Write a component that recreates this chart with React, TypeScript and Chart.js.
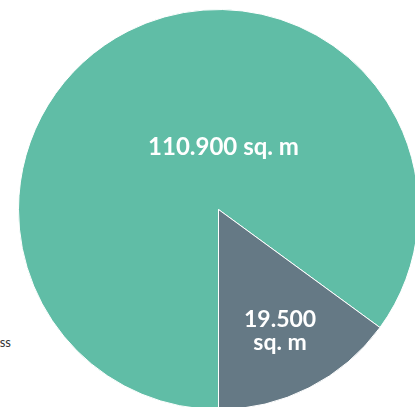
import React, { useEffect, useRef } from "react";
import { Chart, registerables } from "chart.js";

Chart.register(...registerables);

const categories = ["Area A", "Area B"];
const values = [110900, 19500];
const labelLines = [["110.900 sq. m"], ["19.500", "sq. m"]];
const colors = ["#60BDA6", "#657985"];
const legendTail = "ss";

const labelPlugin = {
  id: "sliceLabels",
  afterDatasetsDraw(chart: any) {
    const ctx = chart.ctx;
    const meta = chart.getDatasetMeta(0);
    ctx.save();
    ctx.fillStyle = "#ffffff";
    ctx.textAlign = "center";
    ctx.textBaseline = "middle";
    meta.data.forEach((arc: any, i: number) => {
      const { x, y, outerRadius, startAngle, endAngle } = arc.getProps(
        ["x", "y", "outerRadius", "startAngle", "endAngle"],
        true
      );
      let px: number, py: number, size: number, lh: number;
      if (i === 0) {
        px = x + outerRadius * 0.025;
        py = y - outerRadius * 0.31;
        size = 24;
        lh = 26;
      } else {
        const mid = (startAngle + endAngle) / 2;
        px = x + Math.cos(mid) * outerRadius * 0.68;
        py = y + Math.sin(mid) * outerRadius * 0.68;
        size = 23;
        lh = 23;
      }
      ctx.font = `bold ${size}px Lato, "Open Sans", sans-serif`;
      const lines = labelLines[i];
      lines.forEach((t, k) => {
        ctx.fillText(t, px, py + (k - (lines.length - 1) / 2) * lh);
      });
    });
    ctx.restore();
  },
};

export default function App() {
  const ref = useRef<HTMLCanvasElement>(null);
  useEffect(() => {
    if (!ref.current) return;
    const chart = new Chart(ref.current, {
      type: "pie",
      data: {
        labels: categories,
        datasets: [
          {
            data: values,
            backgroundColor: colors,
            borderColor: "#ffffff",
            borderWidth: 1,
          },
        ],
      },
      options: {
        responsive: false,
        animation: false,
        rotation: 180,
        layout: { padding: 0 },
        plugins: {
          legend: { display: false },
          tooltip: { enabled: false },
        },
      },
      plugins: [labelPlugin],
    });
    return () => chart.destroy();
  }, []);

  return (
    <div
      style={{
        position: "fixed",
        left: 0,
        top: 0,
        width: 415,
        height: 407,
        overflow: "hidden",
        background: "#ffffff",
      }}
    >
      <canvas
        ref={ref}
        width={401}
        height={401}
        style={{ position: "absolute", left: 18, top: 9, width: 401, height: 401 }}
      />
      <span
        style={{
          position: "absolute",
          left: -89,
          top: 334,
          width: 100,
          textAlign: "right",
          font: "13px Lato, 'Open Sans', sans-serif",
          color: "#333333",
        }}
      >
        {legendTail}
      </span>
    </div>
  );
}
